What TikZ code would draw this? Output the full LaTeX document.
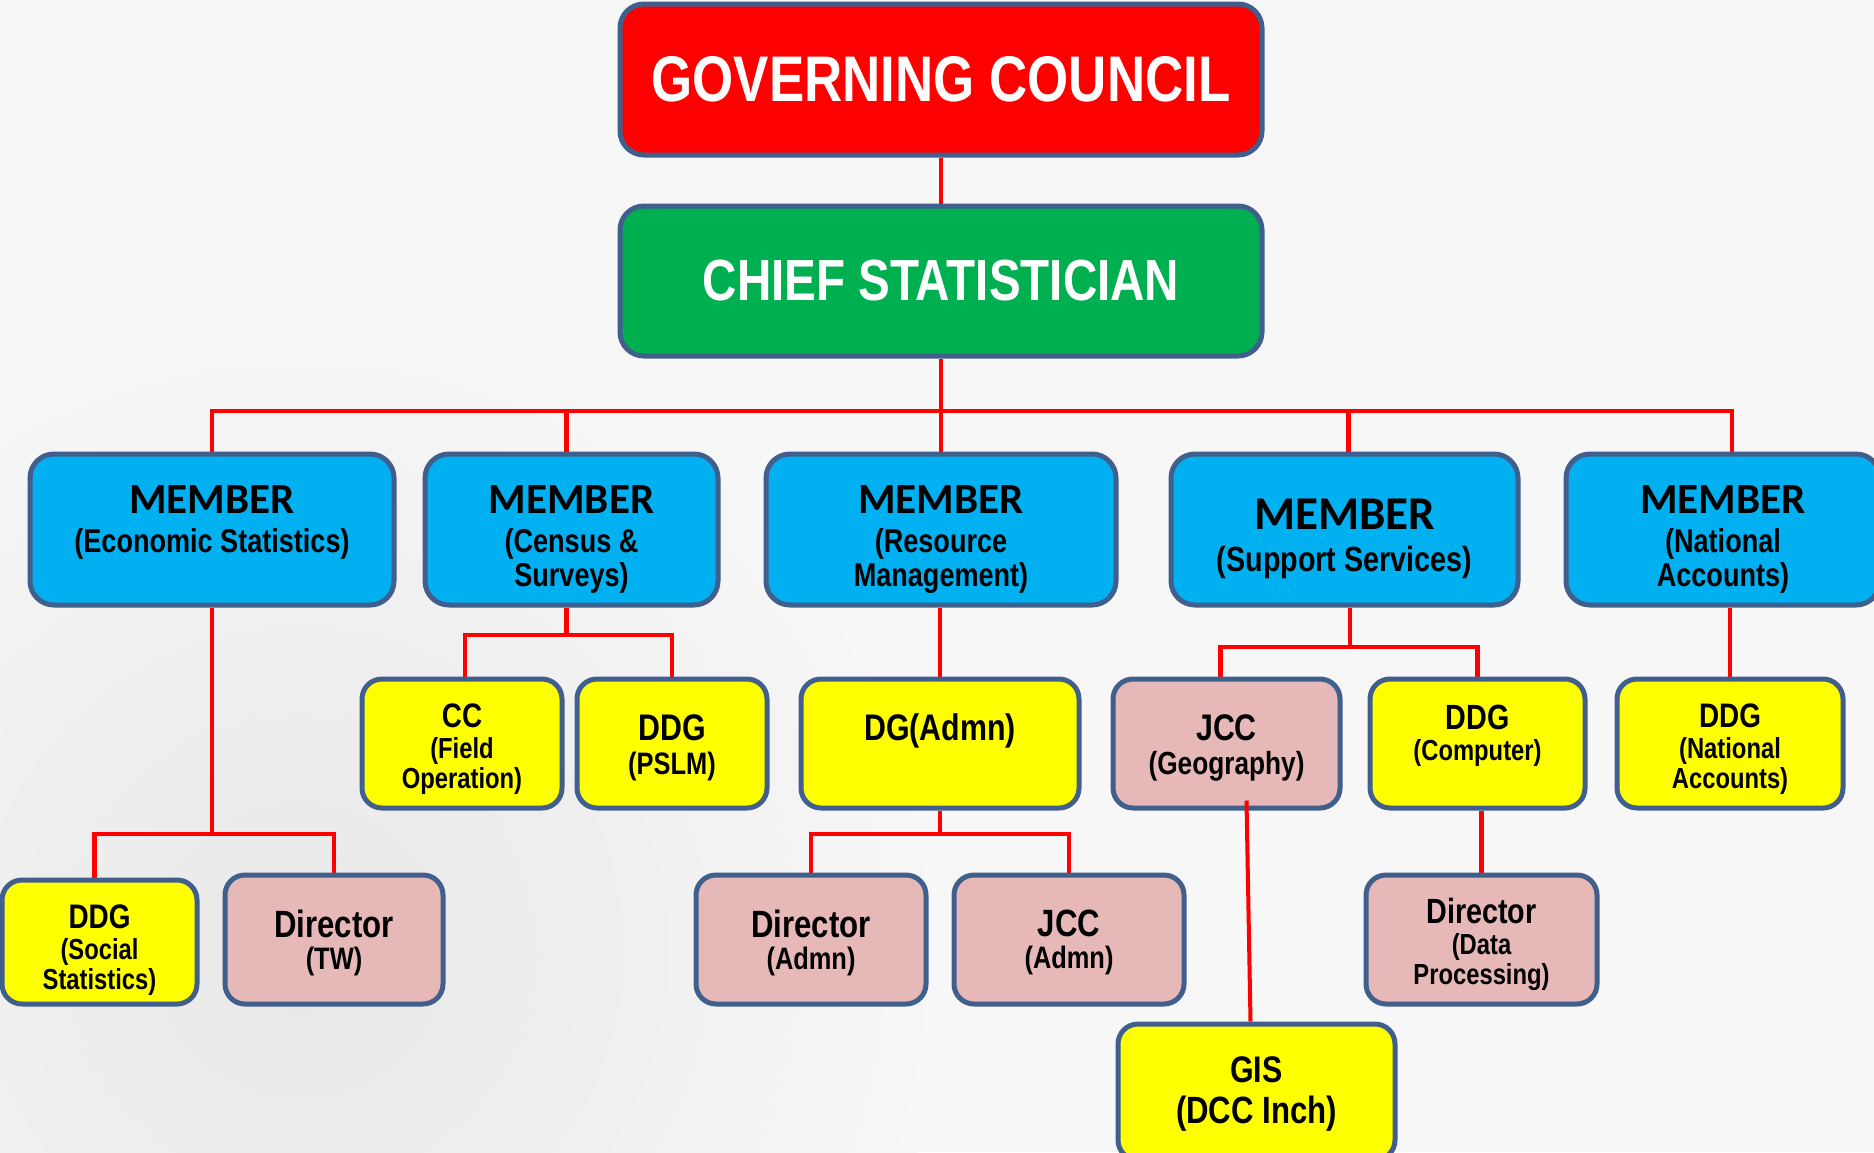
\documentclass[tikz,border=0pt]{standalone}
\usepackage{fontspec}
\setmainfont{Liberation Sans}
\newfontfamily\narfont[FakeStretch=0.82]{Liberation Sans}
\newfontfamily\calfont{Carlito}
\definecolor{bgc}{HTML}{F7F7F7}
\definecolor{bordc}{HTML}{415F8C}
\definecolor{gcred}{HTML}{FF0000}
\definecolor{csgreen}{HTML}{00B050}
\definecolor{mblue}{HTML}{00B0F0}
\definecolor{yel}{HTML}{FFFF00}
\definecolor{pink}{HTML}{E6B8B7}
\newcommand\mt[2]{{\calfont\bfseries\fontsize{#1}{#1}\selectfont #2}}
\newcommand\st[2]{{\narfont\bfseries\fontsize{#1}{#1}\selectfont #2}}
\pgfdeclarelayer{bgl}
\pgfdeclarelayer{lnl}
\pgfsetlayers{bgl,lnl,main}
\begin{document}
\begin{tikzpicture}[x=1pt,y=-1pt,
  box/.style={draw=bordc, line width=5pt, rounded corners=24pt, inner sep=0pt},
  conn/.style={draw=gcred, line width=4.5pt},
  lbl/.style={align=center, inner sep=0pt, text=black, anchor=north}]
\useasboundingbox (0,0) rectangle (1874,1152);
\begin{pgfonlayer}{bgl}
\fill[bgc] (0,0) rectangle (1874,1152);
\shade[inner color=black!9, outer color=bgc] (300,950) circle (650pt);
\end{pgfonlayer}

% top
\node[box, fill=gcred, minimum width=642pt, minimum height=151pt, text=white,
  font=\narfont\bfseries\fontsize{64.5}{64.5}\selectfont] (gc) at (941,79.5) {GOVERNING COUNCIL};
\node[box, fill=csgreen, minimum width=642pt, minimum height=150pt, text=white,
  font=\narfont\bfseries\fontsize{58}{58}\selectfont] (cs) at (941,281) {CHIEF STATISTICIAN};

% members
\node[box, fill=mblue, minimum width=364pt, minimum height=151pt] (m1) at (212,529.5) {};
\node[box, fill=mblue, minimum width=293pt, minimum height=151pt] (m2) at (571.5,529.5) {};
\node[box, fill=mblue, minimum width=350pt, minimum height=151pt] (m3) at (941,529.5) {};
\node[box, fill=mblue, minimum width=347pt, minimum height=151pt] (m4) at (1344.5,529.5) {};
\node[box, fill=mblue, minimum width=314pt, minimum height=151pt] (m5) at (1723,529.5) {};

\node[lbl, font=\fontsize{33}{34}\selectfont] (m1t) at ([yshift=-34pt]m1.north) {\mt{43}{MEMBER}\\[5pt]\st{33}{(Economic Statistics)}};
\node[lbl, font=\fontsize{33}{34}\selectfont] (m2t) at ([yshift=-34pt]m2.north) {\mt{43}{MEMBER}\\[5pt]\st{33}{(Census \&}\\\st{33}{Surveys)}};
\node[lbl, font=\fontsize{33}{34}\selectfont] (m3t) at ([yshift=-34pt]m3.north) {\mt{43}{MEMBER}\\[5pt]\st{33}{(Resource}\\\st{33}{Management)}};
\node[lbl, font=\fontsize{36}{38}\selectfont] (m4t) at ([yshift=-47pt]m4.north) {\mt{47}{MEMBER}\\[4pt]\st{35}{(Support Services)}};
\node[lbl, font=\fontsize{33}{34}\selectfont] (m5t) at ([yshift=-34pt]m5.north) {\mt{43}{MEMBER}\\[5pt]\st{33}{(National}\\\st{33}{Accounts)}};

% second row
\node[box, fill=yel, minimum width=200pt, minimum height=129pt, rounded corners=20pt] (cc) at (462,743.5) {};
\node[box, fill=yel, minimum width=190pt, minimum height=129pt, rounded corners=20pt] (pslm) at (672,743.5) {};
\node[box, fill=yel, minimum width=278pt, minimum height=129pt, rounded corners=20pt] (dg) at (940,743.5) {};
\node[box, fill=pink, minimum width=227pt, minimum height=129pt, rounded corners=20pt] (jccg) at (1226.5,743.5) {};
\node[box, fill=yel, minimum width=215pt, minimum height=129pt, rounded corners=20pt] (ddgc) at (1477.5,743.5) {};
\node[box, fill=yel, minimum width=226pt, minimum height=129pt, rounded corners=20pt] (na) at (1730,743.5) {};

\node[lbl, font=\fontsize{29}{30}\selectfont] (cct) at ([yshift=-27pt]cc.north) {\st{34}{CC}\\[1pt]\st{29}{(Field}\\\st{29}{Operation)}};
\node[lbl, font=\fontsize{31}{34}\selectfont] (pslmt) at ([yshift=-38pt]pslm.north) {\st{37}{DDG}\\\st{31}{(PSLM)}};
\node[lbl] (dgt) at ([yshift=-37pt]dg.north) {\st{37}{DG(Admn)}};
\node[lbl, font=\fontsize{32}{34}\selectfont] (jccgt) at ([yshift=-38pt]jccg.north) {\st{37}{JCC}\\\st{32}{(Geography)}};
\node[lbl, font=\fontsize{29}{31}\selectfont] (ddgct) at ([yshift=-28pt]ddgc.north) {\st{35}{DDG}\\\st{29}{(Computer)}};
\node[lbl, font=\fontsize{29}{30}\selectfont] (nat) at ([yshift=-27pt]na.north) {\st{34}{DDG}\\[1pt]\st{29}{(National}\\\st{29}{Accounts)}};

% third row
\node[box, fill=yel, minimum width=195pt, minimum height=124pt, rounded corners=20pt] (ddgs) at (99.5,942) {};
\node[box, fill=pink, minimum width=218pt, minimum height=129pt, rounded corners=20pt] (dtw) at (334,939.5) {};
\node[box, fill=pink, minimum width=230pt, minimum height=129pt, rounded corners=20pt] (dadm) at (811,939.5) {};
\node[box, fill=pink, minimum width=230pt, minimum height=129pt, rounded corners=20pt] (jcca) at (1069,939.5) {};
\node[box, fill=pink, minimum width=231pt, minimum height=129pt, rounded corners=20pt] (ddp) at (1481.5,939.5) {};
\node[box, fill=yel, minimum width=277pt, minimum height=136pt, rounded corners=20pt] (gis) at (1256.5,1092) {};

\node[lbl, font=\fontsize{29}{30}\selectfont] (ddgst) at ([yshift=-27pt]ddgs.north) {\st{34}{DDG}\\[1pt]\st{29}{(Social}\\\st{29}{Statistics)}};
\node[lbl, font=\fontsize{31}{32}\selectfont] (dtwt) at ([yshift=-37pt]dtw.north) {\st{38}{Director}\\\st{31}{(TW)}};
\node[lbl, font=\fontsize{31}{32}\selectfont] (dadmt) at ([yshift=-37pt]dadm.north) {\st{38}{Director}\\\st{31}{(Admn)}};
\node[lbl, font=\fontsize{31}{32}\selectfont] (jccat) at ([yshift=-37pt]jcca.north) {\st{38}{JCC}\\\st{31}{(Admn)}};
\node[lbl, font=\fontsize{29}{30}\selectfont] (ddpt) at ([yshift=-25pt]ddp.north) {\st{35}{Director}\\[1pt]\st{29}{(Data}\\\st{29}{Processing)}};
\node[lbl, font=\fontsize{38}{41}\selectfont] (gist) at ([yshift=-35pt]gis.north) {\st{37}{GIS}\\\st{38}{(DCC Inch)}};

% connectors
\coordinate (busA) at (941,411);
\coordinate (busB) at (566.5,635);
\coordinate (busC) at (1350,647);
\coordinate (busD) at (212,834);
\coordinate (busE) at (940,834);
\begin{pgfonlayer}{lnl}
\draw[conn] (gc.south) -- (cs.north);
\draw[conn] (cs.south) -- (busA);
\draw[conn] (m1.north) |- (busA);
\draw[conn] ([xshift=-5pt]m2.north) |- (busA);
\draw[conn] (m3.north) -- (busA);
\draw[conn] ([xshift=4pt]m4.north) |- (busA);
\draw[conn] ([xshift=9pt]m5.north) |- (busA);
\draw[conn] (busB |- m2.south) -- (busB);
\draw[conn] ([xshift=3pt]cc.north) |- (busB);
\draw[conn] (pslm.north) |- (busB);
\draw[conn] (dg.north) -- (dg.north |- m3.south);
\draw[conn] (busC |- m4.south) -- (busC);
\draw[conn] ([xshift=-6pt]jccg.north) |- (busC);
\draw[conn] (ddgc.north) |- (busC);
\draw[conn] (na.north) -- (na.north |- m5.south);
\draw[conn] (m1.south) -- (busD);
\draw[conn] ([xshift=-5pt]ddgs.north) |- (busD);
\draw[conn] (dtw.north) |- (busD);
\draw[conn] (dg.south) -- (busE);
\draw[conn] (dadm.north) |- (busE);
\draw[conn] (jcca.north) |- (busE);
\draw[conn] (ddp.north |- ddgc.south) -- (ddp.north);
\end{pgfonlayer}
\draw[conn, line width=4pt] ([xshift=20pt,yshift=10pt]jccg.south) -- ([xshift=-6pt]gis.north);
\end{tikzpicture}
\end{document}
